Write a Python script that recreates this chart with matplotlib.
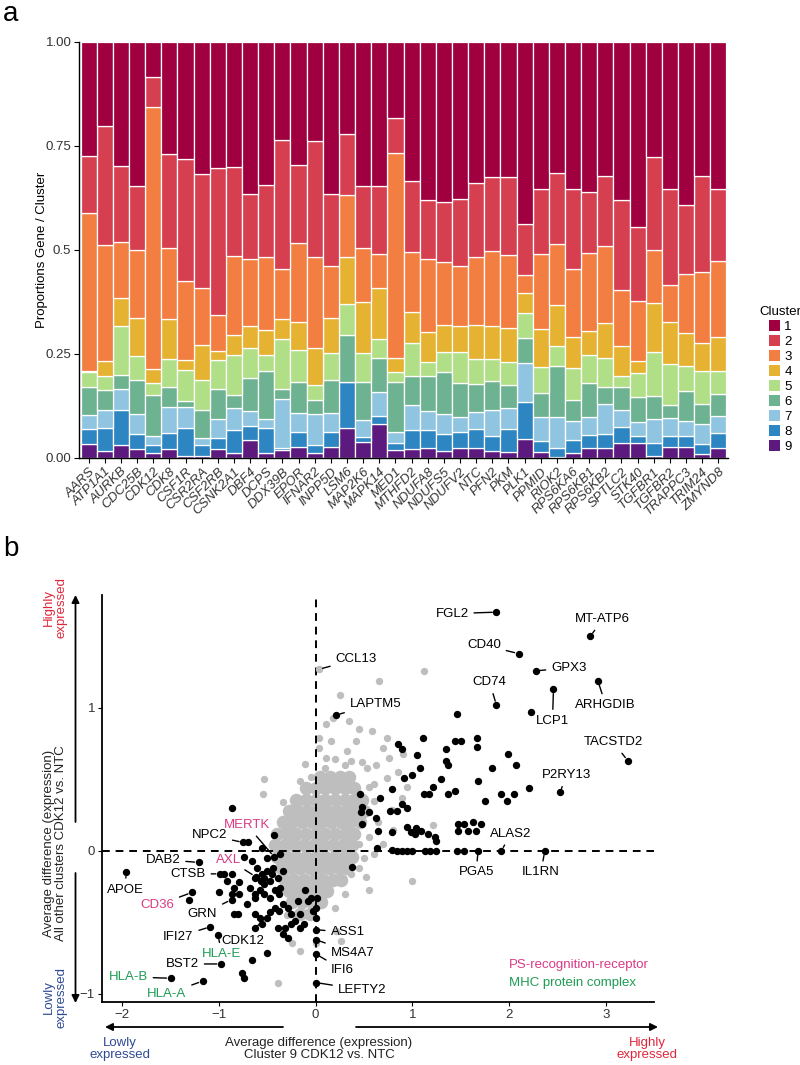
import numpy as np
import matplotlib
matplotlib.use('Agg')
import matplotlib.pyplot as plt
from matplotlib.patches import Patch

plt.rcParams['font.family'] = ['Liberation Sans', 'DejaVu Sans']

# ---- panel a data: stacked proportions per gene ----
genes = ['AARS', 'ATP1A1', 'AURKB', 'CDC25B', 'CDK12', 'CDK8', 'CSF1R', 'CSR2RA', 'CSF2RB', 'CSNK2A1',
         'DBF4', 'DCPS', 'DDX39B', 'EPOR', 'IFNAR2', 'INPP5D', 'LSM6', 'MAP2K6', 'MAPK14', 'MED1',
         'MTHFD2', 'NDUFA8', 'NDUFS5', 'NDUFV2', 'NTC', 'PFN2', 'PKM', 'PLK1', 'PPMID', 'RIOK2',
         'RPS6KA6', 'RPS6KB1', 'RPS6KB2', 'SPTLC2', 'STK40', 'TGFBR1', 'TGFBR2', 'TRAPPC3', 'TRIM24', 'ZMYND8']

# upper edge of each cluster's segment (clusters stacked 9 at bottom .. 1 on top)
top9 = [0.033, 0.018, 0.031, 0.021, 0.013, 0.022, 0.005, 0.006, 0.021, 0.013,
        0.043, 0.011, 0.020, 0.026, 0.011, 0.027, 0.071, 0.039, 0.082, 0.020,
        0.021, 0.023, 0.018, 0.023, 0.023, 0.017, 0.015, 0.045, 0.015, 0.002,
        0.011, 0.023, 0.025, 0.035, 0.035, 0.004, 0.027, 0.027, 0.009, 0.023]
top8 = [0.069, 0.073, 0.115, 0.058, 0.031, 0.059, 0.073, 0.031, 0.047, 0.067,
        0.077, 0.071, 0.023, 0.063, 0.031, 0.063, 0.183, 0.051, 0.101, 0.035,
        0.067, 0.067, 0.057, 0.063, 0.069, 0.053, 0.070, 0.135, 0.042, 0.023,
        0.043, 0.055, 0.058, 0.074, 0.053, 0.035, 0.053, 0.053, 0.033, 0.059]
top7 = [0.103, 0.115, 0.166, 0.105, 0.053, 0.122, 0.123, 0.047, 0.093, 0.119,
        0.113, 0.093, 0.143, 0.107, 0.105, 0.107, 0.183, 0.091, 0.159, 0.063,
        0.127, 0.113, 0.105, 0.099, 0.111, 0.115, 0.119, 0.228, 0.098, 0.098,
        0.090, 0.098, 0.130, 0.115, 0.087, 0.093, 0.095, 0.089, 0.081, 0.101]
top6 = [0.171, 0.163, 0.200, 0.188, 0.151, 0.171, 0.138, 0.115, 0.165, 0.151,
        0.192, 0.210, 0.165, 0.183, 0.139, 0.188, 0.296, 0.182, 0.241, 0.183,
        0.196, 0.197, 0.206, 0.181, 0.178, 0.185, 0.175, 0.288, 0.157, 0.220,
        0.139, 0.181, 0.170, 0.170, 0.147, 0.149, 0.127, 0.161, 0.130, 0.153]
top5 = [0.206, 0.196, 0.317, 0.246, 0.181, 0.238, 0.212, 0.188, 0.236, 0.248,
        0.264, 0.248, 0.285, 0.260, 0.175, 0.252, 0.369, 0.252, 0.285, 0.206,
        0.276, 0.230, 0.254, 0.254, 0.238, 0.238, 0.230, 0.349, 0.218, 0.269,
        0.216, 0.248, 0.240, 0.197, 0.204, 0.256, 0.226, 0.221, 0.210, 0.208]
top4 = [0.209, 0.232, 0.385, 0.336, 0.213, 0.333, 0.236, 0.272, 0.258, 0.296,
        0.318, 0.308, 0.334, 0.326, 0.264, 0.336, 0.482, 0.376, 0.408, 0.240,
        0.352, 0.304, 0.320, 0.317, 0.320, 0.318, 0.313, 0.396, 0.309, 0.368,
        0.290, 0.305, 0.324, 0.269, 0.232, 0.373, 0.328, 0.300, 0.276, 0.292]
top3 = [0.588, 0.512, 0.520, 0.500, 0.843, 0.506, 0.426, 0.409, 0.344, 0.486,
        0.478, 0.482, 0.454, 0.516, 0.484, 0.462, 0.632, 0.504, 0.490, 0.734,
        0.494, 0.478, 0.470, 0.462, 0.482, 0.498, 0.488, 0.440, 0.490, 0.514,
        0.454, 0.492, 0.510, 0.404, 0.377, 0.500, 0.415, 0.442, 0.448, 0.474]
top2 = [0.727, 0.798, 0.703, 0.655, 0.917, 0.731, 0.718, 0.683, 0.698, 0.700,
        0.634, 0.656, 0.764, 0.704, 0.762, 0.634, 0.780, 0.655, 0.655, 0.817,
        0.667, 0.620, 0.616, 0.622, 0.660, 0.676, 0.676, 0.5625, 0.647, 0.684,
        0.647, 0.639, 0.679, 0.620, 0.556, 0.724, 0.646, 0.609, 0.679, 0.646]

cluster_colors = ['#A0003F', '#D63F50', '#F27E42', '#E6B232', '#B1DF88',
                  '#6DB391', '#90C5E2', '#2D85C2', '#5D1A7E']

# ---- panel b data ----
gray_core = [(0.05, 0.52), (0.15, 0.52), (0.25, 0.52), (0.35, 0.52),
             (-0.1, 0.44), (0.0, 0.44), (0.1, 0.44), (0.2, 0.44), (0.3, 0.44), (0.4, 0.44),
             (-0.2, 0.36), (-0.1, 0.36), (0.0, 0.36), (0.1, 0.36), (0.2, 0.36), (0.3, 0.36), (0.4, 0.36), (0.48, 0.36),
             (-0.28, 0.28), (-0.18, 0.28), (-0.08, 0.28), (0.02, 0.28), (0.12, 0.28), (0.22, 0.28), (0.32, 0.28), (0.42, 0.28), (0.5, 0.28),
             (-0.34, 0.2), (-0.24, 0.2), (-0.14, 0.2), (-0.04, 0.2), (0.06, 0.2), (0.16, 0.2), (0.26, 0.2), (0.36, 0.2), (0.46, 0.2),
             (-0.4, 0.12), (-0.3, 0.12), (-0.2, 0.12), (-0.1, 0.12), (0.0, 0.12), (0.1, 0.12), (0.2, 0.12), (0.3, 0.12), (0.4, 0.12),
             (-0.42, 0.04), (-0.32, 0.04), (-0.22, 0.04), (-0.12, 0.04), (-0.02, 0.04), (0.08, 0.04), (0.18, 0.04), (0.28, 0.04), (0.38, 0.04),
             (-0.4, -0.04), (-0.3, -0.04), (-0.2, -0.04), (-0.1, -0.04), (0.0, -0.04), (0.1, -0.04), (0.2, -0.04), (0.3, -0.04), (0.38, -0.04),
             (-0.36, -0.12), (-0.26, -0.12), (-0.16, -0.12), (-0.06, -0.12), (0.04, -0.12), (0.14, -0.12), (0.24, -0.12), (0.32, -0.12),
             (-0.32, -0.2), (-0.22, -0.2), (-0.12, -0.2), (-0.02, -0.2), (0.08, -0.2), (0.18, -0.2), (0.26, -0.2),
             (-0.28, -0.28), (-0.18, -0.28), (-0.08, -0.28), (0.02, -0.28), (0.12, -0.28),
             (-0.24, -0.36), (-0.14, -0.36), (-0.04, -0.36), (0.06, -0.36),
             (-0.16, -0.44), (-0.06, -0.44)]

gray_pts = [(0.03, 1.27), (0.66, 1.19), (1.12, 1.26), (0.25, 1.09), (0.18, 0.93), (0.34, 0.91),
            (0.11, 0.89), (0.03, 0.79), (0.42, 0.77), (0.03, 0.72), (0.74, 0.79), (0.32, 0.70),
            (0.76, 0.65), (0.58, 0.84), (-0.53, 0.50), (-0.54, 0.40), (-0.34, 0.34), (-0.16, 0.49),
            (-0.11, 0.61), (0.11, 0.65), (-0.34, 0.13), (0.79, 0.29), (0.89, 0.37), (1.21, 0.18),
            (1.0, -0.21), (0.55, -0.27), (0.37, -0.16), (-0.39, -0.92), (-0.16, -0.70), (-0.24, -0.64),
            (0.0, -0.64), (0.26, -0.63), (0.21, -0.56), (-0.1, -0.27), (0.42, 0.42), (0.6, 0.47),
            (0.74, 0.51), (0.53, 0.58), (0.16, 0.77), (0.37, 0.63), (0.6, 0.35), (0.65, 0.2),
            (0.55, 0.1), (0.7, 0.05), (0.5, -0.05), (0.45, -0.12), (0.55, 0.45), (0.8, 0.15),
            (0.3, 0.6), (0.2, 0.64), (0.48, 0.62), (0.62, 0.6), (0.85, 0.55), (0.95, 0.45),
            (0.7, 0.72), (0.45, 0.85), (0.9, 0.68), (0.1, 0.58), (-0.05, 0.52), (0.52, -0.18),
            (0.3, -0.3), (0.2, -0.4), (-0.3, -0.45), (0.6, -0.02), (0.45, 0.05)]

black_pts = [(1.46, 0.96), (0.85, 0.75), (1.11, 0.79), (0.89, 0.71), (1.05, 0.67), (1.35, 0.71),
             (1.44, 0.77), (1.5, 0.77), (1.67, 0.79), (1.67, 0.73), (1.99, 0.68), (2.07, 0.6),
             (1.82, 0.58), (1.08, 0.58), (1.35, 0.63), (1.37, 0.6), (0.91, 0.51), (1.0, 0.53),
             (1.3, 0.5), (1.21, 0.45), (1.68, 0.49), (1.12, 0.4), (1.17, 0.4), (1.37, 0.4),
             (1.44, 0.42), (1.75, 0.35), (1.92, 0.4), (1.98, 0.35), (2.05, 0.4), (2.21, 0.44),
             (0.46, 0.4), (0.79, 0.43), (0.89, 0.33), (0.47, 0.27), (0.55, 0.27), (0.77, 0.28),
             (0.84, 0.28), (0.62, 0.23), (0.95, 0.3), (0.48, 0.19), (0.65, 0.14), (0.79, 0.13),
             (0.95, 0.17), (0.99, 0.13), (1.03, 0.12), (1.09, 0.14), (1.16, 0.12), (1.23, 0.1),
             (1.24, 0.07), (1.04, 0.16), (1.47, 0.19), (1.53, 0.19), (1.58, 0.14), (1.47, 0.14),
             (1.63, 0.2), (1.71, 0.19), (1.66, 0.14), (0.38, -0.11), (0.63, 0.02), (0.79, 0.01),
             (0.84, 0.0), (0.89, 0.0), (0.95, 0.0), (1.0, 0.0), (1.13, 0.0), (1.18, 0.0),
             (1.24, 0.0), (1.46, 0.0), (1.53, 0.0), (0.48, 0.31), (0.67, 0.37), (2.23, 0.97),
             (-0.87, 0.3), (-0.7, 0.06), (-0.55, 0.02), (-0.43, 0.11), (-0.74, -0.04), (-0.66, -0.07),
             (-0.61, -0.12), (-0.55, -0.16), (-0.5, -0.14), (-0.45, -0.16), (-0.39, -0.19), (-0.37, -0.26),
             (-0.53, -0.23), (-0.58, -0.27), (-0.63, -0.3), (-0.68, -0.26), (-0.79, -0.22), (-0.92, -0.21),
             (-0.84, -0.26), (-0.79, -0.3), (-0.87, -0.3), (-1.0, -0.29), (-0.95, -0.16), (-0.87, -0.16),
             (-0.71, -0.37), (-0.63, -0.33), (-0.53, -0.3), (-0.47, -0.33), (-0.42, -0.27), (-0.38, -0.3),
             (-0.84, -0.44), (-0.8, -0.44), (-0.63, -0.44), (-0.58, -0.47), (-0.5, -0.47), (-0.42, -0.4),
             (-0.38, -0.42), (-0.34, -0.37), (-0.29, -0.4), (-0.63, -0.54), (-0.55, -0.51), (-0.39, -0.54),
             (-0.32, -0.54), (-0.26, -0.51), (-0.21, -0.49), (-0.16, -0.44), (-0.12, -0.51), (-0.08, -0.35),
             (-0.11, -0.27), (-0.05, -0.33), (-0.16, -0.54), (-0.34, -0.58), (-0.29, -0.61), (-0.5, -0.71),
             (-0.66, -0.76), (-0.76, -0.85), (-0.74, -0.89), (-0.26, -0.44), (-0.18, -0.35), (0.0, -0.4),
             (0.0, -0.47), (-0.03, -0.42), (0.01, -0.33), (-0.63, -0.19), (-0.57, -0.21), (-0.53, -0.19),
             (-0.47, -0.21), (-0.44, -0.12), (-0.5, -0.05), (-0.37, -0.02), (-0.34, -0.14), (-1.31, -0.34)]

# gene: (point x, point y, label x, label y, colour group)
labelled = {
    'CCL13': (0.03, 1.27, 0.42, 1.34, 'gray'),
    'LAPTM5': (0.21, 0.95, 0.62, 1.03, 'none'),
    'CD40': (2.10, 1.38, 1.74, 1.44, 'none'),
    'FGL2': (1.87, 1.67, 1.41, 1.66, 'none'),
    'MT-ATP6': (2.84, 1.50, 2.97, 1.62, 'none'),
    'GPX3': (2.28, 1.26, 2.62, 1.28, 'none'),
    'CD74': (1.87, 1.02, 1.80, 1.18, 'none'),
    'LCP1': (2.46, 1.13, 2.45, 0.91, 'none'),
    'ARHGDIB': (2.92, 1.19, 3.00, 1.02, 'none'),
    'TACSTD2': (3.23, 0.63, 3.08, 0.76, 'none'),
    'P2RY13': (2.53, 0.41, 2.59, 0.53, 'none'),
    'ALAS2': (1.92, 0.0, 2.02, 0.12, 'none'),
    'PGA5': (1.68, 0.0, 1.66, -0.15, 'none'),
    'IL1RN': (2.37, 0.0, 2.33, -0.15, 'none'),
    'NPC2': (-0.75, 0.06, -1.10, 0.11, 'none'),
    'MERTK': (-0.43, -0.04, -0.71, 0.18, 'ps'),
    'DAB2': (-1.21, -0.08, -1.58, -0.06, 'none'),
    'AXL': (-0.62, -0.18, -0.90, -0.06, 'ps'),
    'CTSB': (-0.99, -0.16, -1.32, -0.16, 'none'),
    'APOE': (-1.96, -0.15, -1.97, -0.27, 'none'),
    'CD36': (-1.28, -0.29, -1.64, -0.38, 'ps'),
    'GRN': (-0.87, -0.34, -1.17, -0.44, 'none'),
    'IFI27': (-1.09, -0.53, -1.42, -0.60, 'none'),
    'CDK12': (-0.47, -0.43, -0.75, -0.63, 'none'),
    'HLA-E': (-1.01, -0.59, -0.97, -0.72, 'mhc'),
    'BST2': (-0.98, -0.79, -1.38, -0.79, 'none'),
    'HLA-B': (-1.50, -0.89, -1.94, -0.88, 'mhc'),
    'HLA-A': (-1.17, -0.91, -1.54, -1.00, 'mhc'),
    'ASS1': (0.0, -0.55, 0.33, -0.57, 'none'),
    'MS4A7': (0.0, -0.62, 0.38, -0.71, 'none'),
    'IFI6': (0.0, -0.72, 0.28, -0.83, 'none'),
    'LEFTY2': (0.0, -0.92, 0.48, -0.97, 'none'),
}
group_colors = {'none': 'black', 'gray': 'black', 'ps': '#D93A85', 'mhc': '#1E9C55'}

RED = '#E0263A'
BLUE = '#2E4A94'
TXT = 9.5

W, H = 800, 1065
def fx(px):
    return px / W
def fy(py):
    return 1 - py / H

fig = plt.figure(figsize=(W / 100, H / 100), dpi=100)

# ================= panel a =================
ax1 = fig.add_axes([fx(79), fy(458), (728 - 79) / W, (458 - 42) / H])
tops = np.vstack([np.zeros(len(genes)), top9, top8, top7, top6, top5, top4, top3, top2, np.ones(len(genes))])
props = np.diff(tops, axis=0)
x = np.arange(len(genes))
for k in range(9):
    cl = 9 - k
    ax1.bar(x, props[k], bottom=tops[k], width=1.0, color=cluster_colors[cl - 1],
            edgecolor='white', linewidth=0.9)
ax1.set_xlim(-0.6, len(genes) - 0.4)
ax1.set_ylim(0, 1)
ax1.set_yticks([0, 0.25, 0.5, 0.75, 1.0])
ax1.set_yticklabels(['0.00', '0.25', '0.5', '0.75', '1.00'])
ax1.set_xticks(x)
ax1.set_xticklabels(genes, rotation=45, ha='right', rotation_mode='anchor', style='italic')
ax1.tick_params(labelsize=TXT, length=3.5, width=0.8, pad=2, colors='black', labelcolor='#333333')
for s in ['top', 'right']:
    ax1.spines[s].set_visible(False)
for s in ['left', 'bottom']:
    ax1.spines[s].set_linewidth(1.0)
fig.text(fx(42), fy(250), 'Proportions Gene / Cluster', rotation=90, ha='center', va='center', fontsize=TXT)

handles = [Patch(facecolor=c, edgecolor='none', label=str(i + 1)) for i, c in enumerate(cluster_colors)]
fig.legend(handles=handles, title='Cluster', loc='lower left', bbox_to_anchor=(fx(750), fy(462)),
           frameon=False, fontsize=TXT, title_fontsize=TXT, handlelength=0.9, handleheight=0.9,
           labelspacing=0.15, handletextpad=0.3, borderpad=0.2)

fig.text(fx(3), fy(1), 'a', fontsize=20, va='top', ha='left')
fig.text(fx(3), fy(556), 'b', fontsize=20, va='baseline', ha='left')

# ================= panel b =================
ax2 = fig.add_axes([fx(102), fy(1002), (654 - 102) / W, (1002 - 595) / H])
ax2.set_xlim(-2.21, 3.5)
ax2.set_ylim(-1.056, 1.79)
gx, gy = zip(*gray_core)
ax2.scatter(gx, gy, s=95, color='#BEBEBE', linewidths=0, zorder=1)
gx, gy = zip(*gray_pts)
ax2.scatter(gx, gy, s=28, color='#BEBEBE', linewidths=0, zorder=1)
ax2.axvline(0, color='black', lw=1.4, ls=(0, (4, 3)), zorder=2)
ax2.axhline(0, color='black', lw=1.4, ls=(0, (4, 3)), zorder=2)
bx, by = zip(*black_pts)
ax2.scatter(bx, by, s=28, color='black', linewidths=0, zorder=3)

for gene, (px, py, lx, ly, grp) in labelled.items():
    if grp == 'gray':
        ax2.scatter([px], [py], s=28, color='#BEBEBE', linewidths=0, zorder=3)
    else:
        ax2.scatter([px], [py], s=28, color='black', linewidths=0, zorder=3)
    ax2.annotate(gene, xy=(px, py), xytext=(lx, ly), ha='center', va='center', fontsize=TXT,
                 color=group_colors[grp], zorder=4,
                 arrowprops=dict(arrowstyle='-', color='black', lw=1.0, shrinkA=2, shrinkB=3))

ax2.text(2.0, -0.80, 'PS-recognition-receptor', color=group_colors['ps'], fontsize=TXT, va='center')
ax2.text(2.0, -0.92, 'MHC protein complex', color=group_colors['mhc'], fontsize=TXT, va='center')

ax2.set_xticks([-2, -1, 0, 1, 2, 3])
ax2.set_yticks([-1, 0, 1])
ax2.tick_params(labelsize=TXT, length=3, width=0.8, pad=2, labelcolor='#333333')
for s in ['top', 'right']:
    ax2.spines[s].set_visible(False)
for s in ['left', 'bottom']:
    ax2.spines[s].set_linewidth(1.3)

# direction arrows and outer labels
arrow = dict(arrowstyle='-|>', color='black', lw=1.3, mutation_scale=11, shrinkA=0, shrinkB=0)
for start, end in [((75.5, 822), (75.5, 595)), ((75.5, 873), (75.5, 1003)),
                   ((283, 1027), (105, 1027)), ((356, 1027), (658, 1027))]:
    ax2.annotate('', xy=(fx(end[0]), fy(end[1])), xytext=(fx(start[0]), fy(start[1])),
                 xycoords='figure fraction', textcoords='figure fraction',
                 arrowprops=arrow, annotation_clip=False)

fig.text(fx(55), fy(843), 'Average difference (expression)\nAll other clusters CDK12 vs. NTC',
         rotation=90, ha='center', va='center', fontsize=TXT, linespacing=1.0, color='#222222')
fig.text(fx(55), fy(607), 'Highly\nexpressed', rotation=90, ha='center', va='center',
         fontsize=TXT, linespacing=1.0, color=RED)
fig.text(fx(55), fy(997), 'Lowly\nexpressed', rotation=90, ha='center', va='center',
         fontsize=TXT, linespacing=1.0, color=BLUE)
fig.text(fx(120), fy(1049), 'Lowly\nexpressed', ha='center', va='center',
         fontsize=TXT, linespacing=1.1, color=BLUE)
fig.text(fx(319), fy(1049), 'Average difference (expression)\nCluster 9 CDK12 vs. NTC', ha='center',
         va='center', fontsize=TXT, linespacing=1.1, color='#222222')
fig.text(fx(647), fy(1049), 'Highly\nexpressed', ha='center', va='center',
         fontsize=TXT, linespacing=1.1, color=RED)

fig.savefig('out.png', dpi=100)
